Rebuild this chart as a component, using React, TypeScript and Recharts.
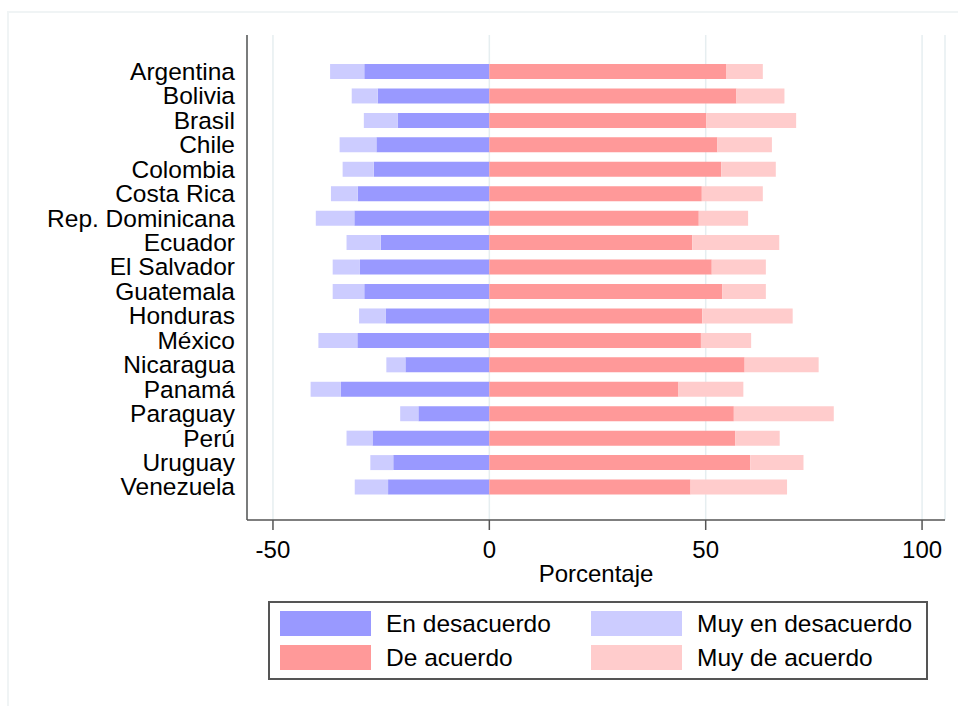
import { Bar, BarChart, CartesianGrid, Legend, XAxis, YAxis } from "recharts";

const FONT = '"Liberation Sans", Arial, Helvetica, sans-serif';

const COUNTRIES = [
  "Argentina",
  "Bolivia",
  "Brasil",
  "Chile",
  "Colombia",
  "Costa Rica",
  "Rep. Dominicana",
  "Ecuador",
  "El Salvador",
  "Guatemala",
  "Honduras",
  "México",
  "Nicaragua",
  "Panamá",
  "Paraguay",
  "Perú",
  "Uruguay",
  "Venezuela",
];

// percentages, disagreement drawn to the left of zero
const EN_DESACUERDO = [
  28.9, 25.8, 21.2, 26.1, 26.7, 30.4, 31.2, 25.1, 29.9, 28.9, 23.9, 30.5, 19.4,
  34.3, 16.4, 27.0, 22.2, 23.4,
];
const MUY_EN_DESACUERDO = [
  7.9, 6.0, 7.8, 8.5, 7.2, 6.2, 8.9, 7.9, 6.3, 7.3, 6.2, 9.0, 4.4, 7.0, 4.2,
  6.0, 5.3, 7.7,
];
const DE_ACUERDO = [
  54.7, 57.1, 50.1, 52.7, 53.6, 49.1, 48.4, 46.9, 51.4, 53.8, 49.2, 48.9, 59.0,
  43.7, 56.5, 56.8, 60.3, 46.5,
];
const MUY_DE_ACUERDO = [
  8.5, 11.1, 20.8, 12.6, 12.6, 14.1, 11.4, 20.1, 12.5, 10.1, 20.9, 11.6, 17.1,
  15.0, 23.1, 10.3, 12.3, 22.3,
];

const X_TICKS = [-50, 0, 50, 100];
const LEGEND_ORDER = ["En desacuerdo", "Muy en desacuerdo", "De acuerdo", "Muy de acuerdo"];

const data = COUNTRIES.map((pais, i) => ({
  pais,
  enDes: -EN_DESACUERDO[i],
  muyEnDes: -MUY_EN_DESACUERDO[i],
  deAc: DE_ACUERDO[i],
  muyDeAc: MUY_DE_ACUERDO[i],
}));

function LegendBox(props: any) {
  const payload = props.payload || [];
  const items = LEGEND_ORDER.map((name) => payload.find((p: any) => p.value === name)).filter(Boolean);
  return (
    <div
      style={{
        boxSizing: "border-box",
        width: 660,
        height: 79,
        border: "2px solid #555",
        position: "relative",
        fontFamily: FONT,
        fontSize: 24.5,
        color: "#000",
        background: "#fff",
      }}
    >
      {items.map((it: any, i: number) => {
        const col = i % 2;
        const row = Math.floor(i / 2);
        return (
          <div
            key={it.value}
            style={{
              position: "absolute",
              left: 10 + col * 311,
              top: 8 + row * 34,
              height: 25,
              display: "flex",
              alignItems: "center",
              whiteSpace: "nowrap",
            }}
          >
            <span
              style={{
                display: "inline-block",
                width: 91,
                height: 25,
                background: it.color,
                marginRight: 15,
              }}
            />
            {it.value}
          </div>
        );
      })}
    </div>
  );
}

export default function App() {
  return (
    <div style={{ position: "relative", width: 958, height: 706, background: "#fff" }}>
      <style>{`body{margin:0}`}</style>
      <div
        style={{
          position: "absolute",
          left: 7,
          top: 11,
          width: 960,
          height: 700,
          borderLeft: "2px solid #f0f4f5",
          borderTop: "2px solid #f0f4f5",
        }}
      />
      <BarChart
        width={958}
        height={706}
        data={data}
        layout="vertical"
        stackOffset="sign"
        margin={{ top: 35, right: 13, left: 0, bottom: 26 }}
        style={{ position: "absolute", left: 0, top: 0 }}
      >
        <CartesianGrid horizontal={false} stroke="#e6eef0" strokeWidth={1.5} />
        <XAxis
          type="number"
          domain={[-56, 105.3]}
          ticks={X_TICKS}
          allowDataOverflow
          height={81}
          tickSize={10}
          tickMargin={11}
          axisLine={{ stroke: "#555", strokeWidth: 1.5 }}
          tickLine={{ stroke: "#555", strokeWidth: 1.5 }}
          tick={{ fill: "#000", fontSize: 24, fontFamily: FONT }}
          label={{
            value: "Porcentaje",
            position: "insideBottom",
            offset: 19,
            fill: "#000",
            fontSize: 24,
            fontFamily: FONT,
          }}
        />
        <YAxis
          type="category"
          dataKey="pais"
          width={247}
          interval={0}
          padding={{ top: 24, bottom: 21 }}
          tickSize={0}
          tickMargin={12}
          tickLine={false}
          axisLine={{ stroke: "#555", strokeWidth: 1.5 }}
          tick={{ fill: "#000", fontSize: 24.5, fontFamily: FONT }}
        />
        <Legend
          verticalAlign="bottom"
          align="left"
          content={LegendBox}
          wrapperStyle={{ left: 268, width: 660 }}
        />
        <Bar dataKey="enDes" name="En desacuerdo" stackId="a" fill="#9999ff" barSize={15} isAnimationActive={false} />
        <Bar dataKey="muyEnDes" name="Muy en desacuerdo" stackId="a" fill="#ccccff" barSize={15} isAnimationActive={false} />
        <Bar dataKey="deAc" name="De acuerdo" stackId="a" fill="#ff9999" barSize={15} isAnimationActive={false} />
        <Bar dataKey="muyDeAc" name="Muy de acuerdo" stackId="a" fill="#ffcccc" barSize={15} isAnimationActive={false} />
      </BarChart>
    </div>
  );
}
